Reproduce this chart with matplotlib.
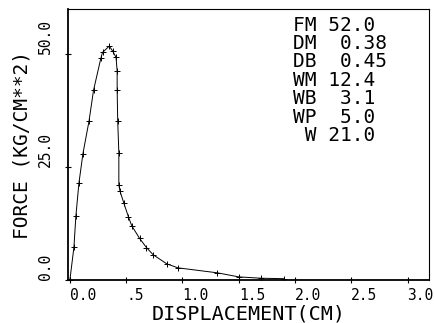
import matplotlib
matplotlib.use('Agg')
import matplotlib.pyplot as plt

# force / displacement readings
disp = [0.0, 0.036, 0.053, 0.08, 0.116, 0.17, 0.21, 0.275, 0.29, 0.35,
        0.38, 0.41, 0.42, 0.42, 0.425, 0.435, 0.435, 0.445, 0.48, 0.52,
        0.55, 0.62, 0.68, 0.74, 0.86, 0.96, 1.31, 1.5, 1.7, 1.9]
force = [0.0, 7.3, 14.1, 21.4, 28.0, 35.2, 42.0, 49.1, 50.4, 51.8,
         50.7, 49.3, 46.3, 42.0, 35.2, 28.2, 21.0, 19.7, 17.0, 14.0,
         12.0, 9.2, 7.2, 5.6, 3.6, 2.7, 1.6, 0.7, 0.4, 0.3]

xticks = [0.0, 0.5, 1.0, 1.5, 2.0, 2.5, 3.0]
xtick_labels = ['0.0', '.5', '1.0', '1.5', '2.0', '2.5', '3.0']
yticks = [0.0, 25.0, 50.0]
ytick_labels = ['0.0', '25.0', '50.0']

stat_names = ['FM', 'DM', 'DB', 'WM', 'WB', 'WP', ' W']
stat_values = ['52.0', ' 0.38', ' 0.45', '12.4', ' 3.1', ' 5.0', '21.0']

mono = 'DejaVu Sans Mono'

fig = plt.figure(figsize=(4.35, 3.23), dpi=100)
ax = fig.add_axes([0.156, 0.133, 0.830, 0.839])

ax.plot(disp, force, color='black', lw=0.7, marker='+', ms=4, mew=0.7)

ax.set_xlim(-0.018, 3.19)
ax.set_ylim(0, 60)

ax.set_xticks(xticks)
ax.set_xticklabels(xtick_labels, fontfamily=mono, fontsize=10.5, ha='left')
ax.set_yticks(yticks)
ax.set_yticklabels(ytick_labels, fontfamily=mono, fontsize=10.5,
                   rotation=90, va='bottom')
ax.tick_params(axis='both', direction='inout', length=5, width=0.8)
ax.tick_params(axis='x', pad=3)
ax.tick_params(axis='y', pad=8)

for side in ['left', 'bottom']:
    ax.spines[side].set_linewidth(1.3)
for side in ['top', 'right']:
    ax.spines[side].set_linewidth(0.8)

ax.set_xlabel('DISPLACEMENT(CM)', fontfamily=mono, fontsize=14.5, labelpad=1)
ax.set_ylabel('FORCE (KG/CM**2)', fontfamily=mono, fontsize=14, labelpad=5)

for i, (name, val) in enumerate(zip(stat_names, stat_values)):
    ax.text(0.623, 0.941 - i * 0.068, name + ' ' + val, transform=ax.transAxes,
            fontfamily=mono, fontsize=14, va='center', ha='left')

fig.savefig('out.png', dpi=100)
